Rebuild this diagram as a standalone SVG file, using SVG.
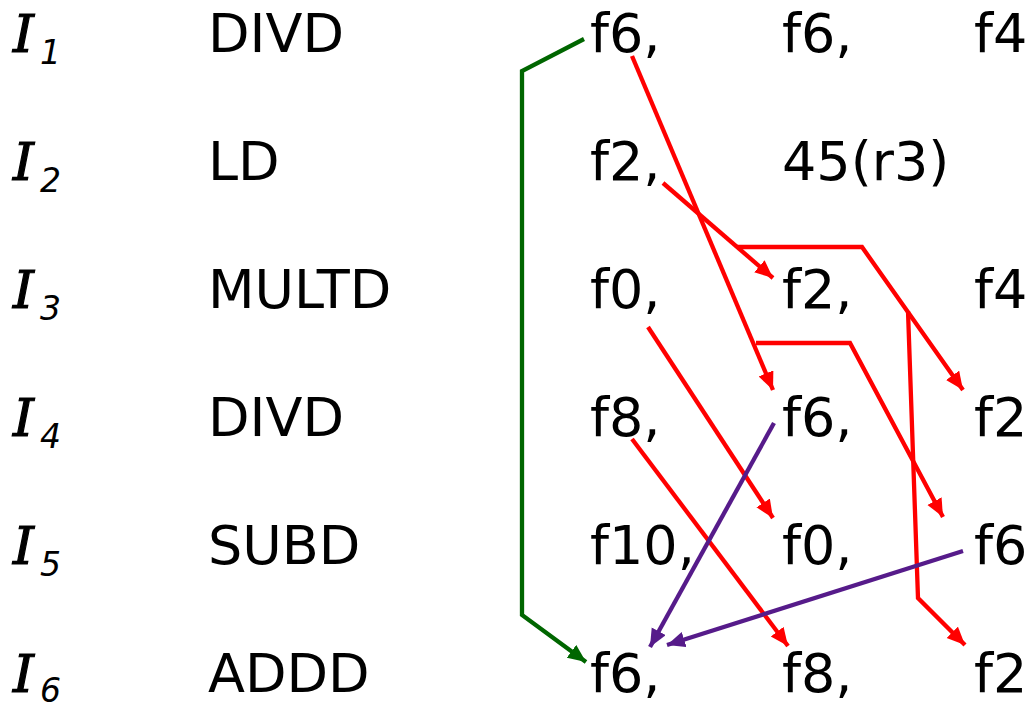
<svg xmlns="http://www.w3.org/2000/svg" width="1031" height="704" viewBox="0 0 1031 704">
<style>
.t{font-family:"DejaVu Sans","Liberation Sans",sans-serif;font-size:54px;fill:#000}
.i{font-family:"DejaVu Serif","Liberation Serif",serif;font-style:italic;font-size:53px;fill:#000;stroke:#000;stroke-width:1.2}
.s{font-family:"DejaVu Sans","Liberation Sans",sans-serif;font-style:italic;font-size:33px;fill:#000}
.r{fill:none;stroke:#FF0000;stroke-width:4.3;marker-end:url(#ar)}
.p{fill:none;stroke:#561B8A;stroke-width:4.3;marker-end:url(#ap)}
.g{fill:none;stroke:#006600;stroke-width:4.3;marker-end:url(#ag)}
</style>
<defs>
<marker id="ar" markerUnits="userSpaceOnUse" markerWidth="19" markerHeight="17" refX="18" refY="8" orient="auto" viewBox="0 0 19 17"><path d="M0,0 L18,8 L0,16 z" fill="#FF0000"/></marker>
<marker id="ap" markerUnits="userSpaceOnUse" markerWidth="19" markerHeight="17" refX="18" refY="8" orient="auto" viewBox="0 0 19 17"><path d="M0,0 L18,8 L0,16 z" fill="#561B8A"/></marker>
<marker id="ag" markerUnits="userSpaceOnUse" markerWidth="19" markerHeight="17" refX="18" refY="8" orient="auto" viewBox="0 0 19 17"><path d="M0,0 L18,8 L0,16 z" fill="#006600"/></marker>
</defs>
<rect width="1031" height="704" fill="#fff"/>
<g id="row1"><text class="i" x="13" y="52">I</text><text class="s" x="40" y="64">1</text><text class="t" x="208" y="52">DIVD</text><text class="t" x="590" y="52">f6,</text><text class="t" x="782" y="52">f6,</text><text class="t" x="974" y="52">f4</text></g>
<g id="row2"><text class="i" x="13" y="180">I</text><text class="s" x="40" y="192">2</text><text class="t" x="208" y="180">LD</text><text class="t" x="590" y="180">f2,</text><text class="t" x="782" y="180">45(r3)</text></g>
<g id="row3"><text class="i" x="13" y="308">I</text><text class="s" x="40" y="320">3</text><text class="t" x="208" y="308">MULTD</text><text class="t" x="590" y="308">f0,</text><text class="t" x="782" y="308">f2,</text><text class="t" x="974" y="308">f4</text></g>
<g id="row4"><text class="i" x="13" y="436">I</text><text class="s" x="40" y="448">4</text><text class="t" x="208" y="436">DIVD</text><text class="t" x="590" y="436">f8,</text><text class="t" x="782" y="436">f6,</text><text class="t" x="974" y="436">f2</text></g>
<g id="row5"><text class="i" x="13" y="564">I</text><text class="s" x="40" y="576">5</text><text class="t" x="208" y="564">SUBD</text><text class="t" x="590" y="564">f10,</text><text class="t" x="782" y="564">f0,</text><text class="t" x="974" y="564">f6</text></g>
<g id="row6"><text class="i" x="13" y="692">I</text><text class="s" x="40" y="702">6</text><text class="t" x="208" y="692">ADDD</text><text class="t" x="590" y="692">f6,</text><text class="t" x="782" y="692">f8,</text><text class="t" x="974" y="692">f2</text></g>
<g id="connectors">
<path class="g" d="M584,39 L522,71 L522,615 L586,662"/>
<path class="r" d="M632,56 L773,390"/>
<path class="r" d="M756,343 L850,343 L943,517"/>
<path class="r" d="M663,183 L773,278"/>
<path class="r" d="M737,247 L862,247 L963,390"/>
<path class="r" d="M908,311 L918,598 L965,645"/>
<path class="r" d="M648,327 L773,518"/>
<path class="r" d="M632,439 L788,646"/>
<path class="p" d="M774,423 L650,647"/>
<path class="p" d="M963,551 L667,645"/>
</g>
</svg>
